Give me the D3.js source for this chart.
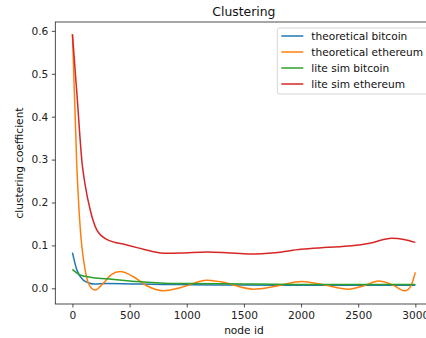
<!DOCTYPE html>
<html>
<head>
<meta charset="utf-8">
<script src="https://cdnjs.cloudflare.com/ajax/libs/d3/7.8.5/d3.min.js"></script>
<style>
  body { margin: 0; background: #fff; }
  svg { display: block; font-family: "DejaVu Sans", sans-serif; }
</style>
</head>
<body>
<div id="chart"></div>
<script>
// series: [node id, clustering coefficient]
var theoreticalBitcoin = [[0,0.083],[38,0.043],[96,0.019],[150,0.012],[184,0.010],[300,0.011],[592,0.010],[800,0.009],[1000,0.0085],[1500,0.0075],[2000,0.007],[2500,0.007],[3000,0.007]];
var theoreticalEthereum = [[0,0.592],[38,0.287],[67,0.144],[111,0.043],[155,0.004],[199,-0.004],[271,0.012],[340,0.032],[417,0.039],[534,0.027],[650,0.006],[796,-0.0055],[950,0.002],[1175,0.019],[1300,0.015],[1583,-0.002],[1800,0.006],[2006,0.016],[2200,0.008],[2414,-0.002],[2550,0.006],[2677,0.017],[2800,0.008],[2910,-0.006],[2960,0.005],[3000,0.037]];
var liteSimBitcoin = [[0,0.044],[67,0.031],[155,0.026],[300,0.022],[500,0.017],[592,0.015],[800,0.012],[1000,0.011],[1500,0.010],[2000,0.009],[2500,0.009],[3000,0.009]];
var liteSimEthereum = [[0,0.592],[40,0.45],[85,0.29],[111,0.241],[155,0.183],[213,0.136],[300,0.114],[476,0.101],[592,0.093],[700,0.086],[800,0.0815],[950,0.082],[1175,0.0846],[1350,0.083],[1554,0.080],[1773,0.083],[2000,0.091],[2200,0.095],[2444,0.099],[2600,0.105],[2794,0.1165],[2900,0.114],[3000,0.107]];

var seriesNames = ["theoretical bitcoin", "theoretical ethereum", "lite sim bitcoin", "lite sim ethereum"];
var seriesData = [theoreticalBitcoin, theoreticalEthereum, liteSimBitcoin, liteSimEthereum];
var colors = ["#1f77b4", "#ff7f0e", "#2ca02c", "#d62728"];
var xTicks = [0, 500, 1000, 1500, 2000, 2500, 3000];
var yTicks = [0.0, 0.1, 0.2, 0.3, 0.4, 0.5, 0.6];

var width = 426, height = 338;
var margin = {left: 55.3, top: 22, right: 432.5, bottom: 304};
var fs = 10.6;

var svg = d3.select("#chart").append("svg")
    .attr("width", width)
    .attr("height", height);

var x = d3.scaleLinear().domain([-150, 3150]).range([margin.left, margin.right]);
var y = d3.scaleLinear().domain([-0.0366, 0.6207]).range([margin.bottom, margin.top]);

// lines
var line = d3.line()
    .x(d => x(d[0]))
    .y(d => y(d[1]))
    .curve(d3.curveMonotoneX);

svg.selectAll(".series")
    .data(seriesData)
    .enter()
    .append("path")
    .attr("class", "series")
    .attr("fill", "none")
    .attr("stroke", (d, i) => colors[i])
    .attr("stroke-width", 1.5)
    .attr("d", line);

// axes
var xAxis = svg.append("g")
    .attr("transform", "translate(0," + margin.bottom + ")")
    .call(d3.axisBottom(x).tickValues(xTicks).tickFormat(d3.format("d")).tickSizeOuter(0).tickSize(3.5).tickPadding(3.5));
var yAxis = svg.append("g")
    .attr("transform", "translate(" + margin.left + ",0)")
    .call(d3.axisLeft(y).tickValues(yTicks).tickFormat(d3.format(".1f")).tickSizeOuter(0).tickSize(3.5).tickPadding(3.5));

[xAxis, yAxis].forEach(function(g) {
    g.selectAll("text").attr("font-size", fs).attr("fill", "#222").attr("font-family", "DejaVu Sans");
    g.selectAll("line").attr("stroke", "#222").attr("stroke-width", 0.8);
    g.select(".domain").remove();
});

// spines
svg.append("rect")
    .attr("x", margin.left)
    .attr("y", margin.top)
    .attr("width", margin.right - margin.left)
    .attr("height", margin.bottom - margin.top)
    .attr("fill", "none")
    .attr("stroke", "#222")
    .attr("stroke-width", 0.8);

// titles
svg.append("text")
    .attr("x", (margin.left + margin.right) / 2)
    .attr("y", 16)
    .attr("text-anchor", "middle")
    .attr("font-size", 12.4)
    .attr("fill", "#111")
    .text("Clustering");

svg.append("text")
    .attr("x", (margin.left + margin.right) / 2)
    .attr("y", 334)
    .attr("text-anchor", "middle")
    .attr("font-size", fs)
    .attr("fill", "#111")
    .text("node id");

svg.append("text")
    .attr("transform", "translate(23," + ((margin.top + margin.bottom) / 2) + ") rotate(-90)")
    .attr("text-anchor", "middle")
    .attr("font-size", fs)
    .attr("fill", "#111")
    .text("clustering coefficient");

// legend
var legend = svg.append("g").attr("transform", "translate(277.3,28)");
legend.append("rect")
    .attr("width", 151)
    .attr("height", 66)
    .attr("rx", 2)
    .attr("fill", "#fff")
    .attr("fill-opacity", 0.8)
    .attr("stroke", "#ccc")
    .attr("stroke-width", 0.8);

var items = legend.selectAll(".item")
    .data(seriesNames)
    .enter()
    .append("g")
    .attr("class", "item")
    .attr("transform", (d, i) => "translate(0," + (8 + i * 16) + ")");
items.append("line")
    .attr("x1", 4).attr("x2", 26)
    .attr("stroke", (d, i) => colors[i])
    .attr("stroke-width", 1.5);
items.append("text")
    .attr("x", 34)
    .attr("dy", "0.35em")
    .attr("font-size", fs)
    .attr("fill", "#111")
    .text(d => d);
</script>
</body>
</html>
